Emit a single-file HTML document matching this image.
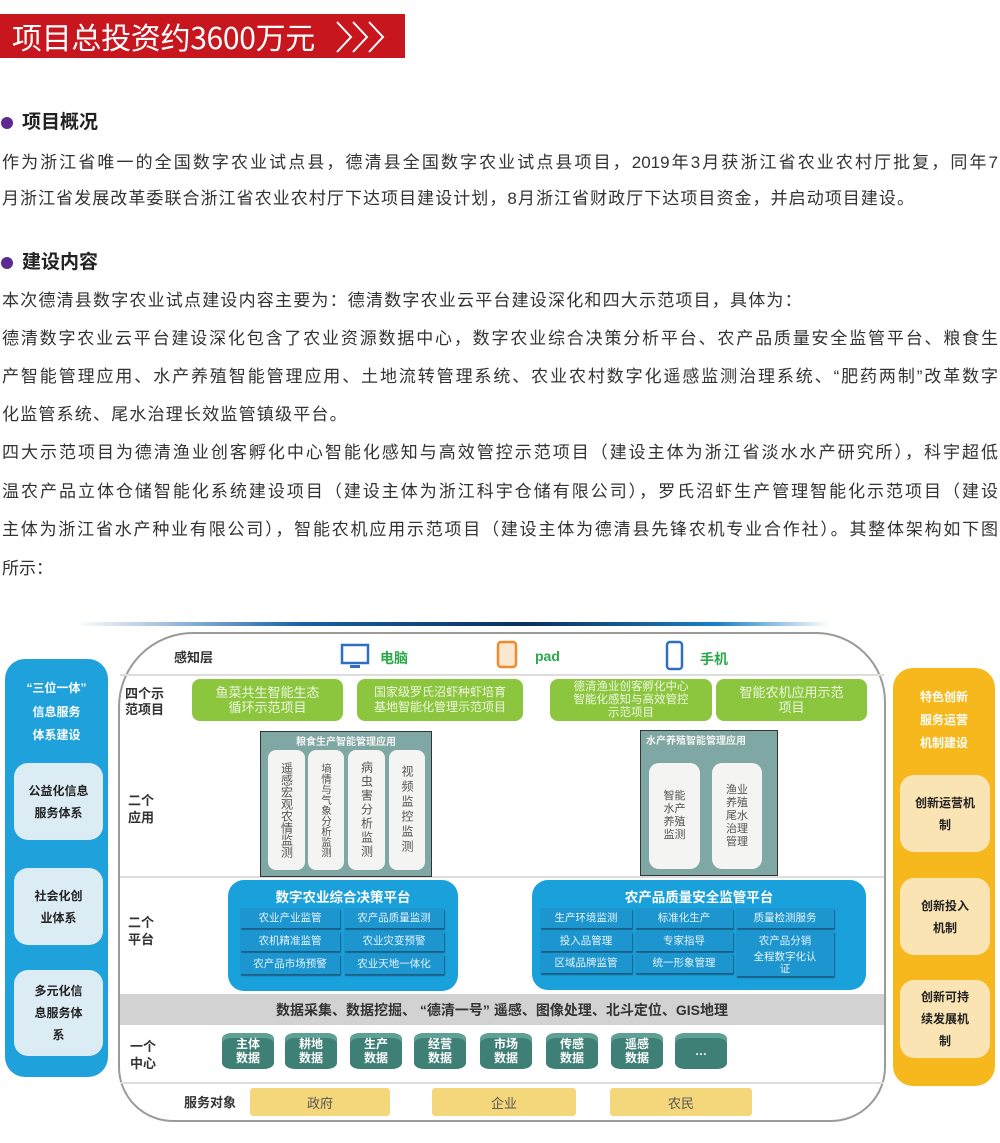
<!DOCTYPE html>
<html><head><meta charset="utf-8">
<style>
*{margin:0;padding:0;box-sizing:border-box}
body{width:1000px;height:1143px;position:relative;background:#fff;font-family:"Liberation Sans","Noto Sans CJK SC",sans-serif;color:#333;overflow:hidden}
.a{position:absolute}
.ln{position:absolute;left:2px;width:996px;font-size:17px;line-height:24px;white-space:nowrap;color:#333}
.j{text-align:justify;text-align-last:justify}
.h{position:absolute;left:22px;font-size:19px;font-weight:bold;color:#222;line-height:24px}
.dot{position:absolute;left:1px;width:12px;height:12px;border-radius:50%;background:#5d2a91}
.c{display:flex;align-items:center;justify-content:center;text-align:center}
.lbl{font-size:13px;font-weight:bold;color:#333;line-height:17px}
.g{background:#8cc63f;border-radius:8px;color:#eef7e0;font-size:13px;line-height:15px}
.col{background:#f4f4f2;border-radius:8px;color:#555;font-size:12px;line-height:14px;writing-mode:vertical-rl;text-orientation:upright;display:flex;align-items:center;justify-content:center}
.plat{background:#1aa1db;border-radius:16px}
.btn{position:absolute;background:#1d95cf;color:#e6f4fb;font-size:10.5px;height:20px;line-height:20px;text-align:center;box-shadow:1px 2px 1px #1a5f86;white-space:nowrap}
.cyl{position:absolute;width:52px;height:36px;background:#3e7f76;border-radius:10px/6px;color:#fff;font-size:12px;font-weight:bold;line-height:14px;display:flex;align-items:center;justify-content:center;text-align:center;box-shadow:inset 0 5px 0 #5fa096}
.y{background:#f5d77b;color:#555;font-size:13px;border-radius:3px}
.lb{background:#dcecf5;border-radius:14px;color:#222;font-size:12px;font-weight:bold;line-height:22px}
.yb{background:#fbe4b3;border-radius:14px;color:#222;font-size:12px;font-weight:bold;line-height:22px}
</style></head><body>

<div class="a" style="left:0;top:14px;width:405px;height:44px;background:#c8161e"></div>
<div class="a" style="left:12px;top:15px;font-size:30px;color:#fff;line-height:42px;font-family:'Noto Sans CJK SC',sans-serif;letter-spacing:-0.3px">项目总投资约3600万元</div>
<svg class="a" style="left:335px;top:20px" width="52" height="34"><g fill="none" stroke="#fff" stroke-width="2"><polyline points="2,2 16,17 2,32"/><polyline points="18,2 32,17 18,32"/><polyline points="34,2 48,17 34,32"/></g></svg>

<div class="dot" style="top:117px"></div><div class="h" style="top:111px">项目概况</div>
<div class="ln j" style="top:151px">作为浙江省唯一的全国数字农业试点县，德清县全国数字农业试点县项目，2019年3月获浙江省农业农村厅批复，同年7</div>
<div class="ln" style="top:187px;letter-spacing:1.05px">月浙江省发展改革委联合浙江省农业农村厅下达项目建设计划，8月浙江省财政厅下达项目资金，并启动项目建设。</div>

<div class="dot" style="top:257px"></div><div class="h" style="top:251px">建设内容</div>
<div class="ln" style="top:289px;letter-spacing:1.2px">本次德清县数字农业试点建设内容主要为：德清数字农业云平台建设深化和四大示范项目，具体为：</div>
<div class="ln j" style="top:327px">德清数字农业云平台建设深化包含了农业资源数据中心，数字农业综合决策分析平台、农产品质量安全监管平台、粮食生</div>
<div class="ln j" style="top:365px">产智能管理应用、水产养殖智能管理应用、土地流转管理系统、农业农村数字化遥感监测治理系统、“肥药两制”改革数字</div>
<div class="ln" style="top:403px;letter-spacing:1.2px">化监管系统、尾水治理长效监管镇级平台。</div>
<div class="ln j" style="top:441px">四大示范项目为德清渔业创客孵化中心智能化感知与高效管控示范项目（建设主体为浙江省淡水水产研究所），科宇超低</div>
<div class="ln j" style="top:480px">温农产品立体仓储智能化系统建设项目（建设主体为浙江科宇仓储有限公司），罗氏沼虾生产管理智能化示范项目（建设</div>
<div class="ln j" style="top:518px">主体为浙江省水产种业有限公司），智能农机应用示范项目（建设主体为德清县先锋农机专业合作社）。其整体架构如下图</div>
<div class="ln" style="top:557px">所示：</div>

<!-- diagram -->
<div class="a" style="left:75px;top:622px;width:755px;height:4px;background:linear-gradient(90deg,rgba(30,120,200,0),#1a5fa8 30%,#0d2f60 60%,#1a80c8 85%,rgba(30,140,210,0))"></div>
<div class="a" style="left:118px;top:632px;width:768px;height:490px;border:2px solid #9a9a9a;border-radius:75px 70px 55px 55px"></div>

<div class="a" style="left:120px;top:674px;width:764px;height:2px;background:#ddd"></div>
<div class="a" style="left:120px;top:876px;width:764px;height:2px;background:#ddd"></div>
<div class="a" style="left:120px;top:994px;width:764px;height:31px;background:#d2d2d2"></div>
<div class="a c" style="left:120px;top:994px;width:764px;height:31px;font-size:14px;font-weight:bold;color:#333">数据采集、数据挖掘、 “德清一号” 遥感、图像处理、北斗定位、GIS地理</div>
<div class="a" style="left:120px;top:1082px;width:764px;height:2px;background:#ddd"></div>

<div class="a lbl" style="left:174px;top:649px">感知层</div>
<svg class="a" style="left:340px;top:643px" width="30" height="28"><rect x="2" y="2" width="26" height="18" fill="#fff" stroke="#2f6fc0" stroke-width="2.5"/><rect x="10" y="22" width="10" height="3" fill="#2f6fc0"/></svg>
<div class="a" style="left:380px;top:648px;font-size:14px;font-weight:bold;color:#2aa84a">电脑</div>
<svg class="a" style="left:496px;top:640px" width="22" height="30"><rect x="2" y="2" width="18" height="25" rx="3" fill="#fbe6d0" stroke="#ef8b2c" stroke-width="2.5"/></svg>
<div class="a" style="left:535px;top:648px;font-size:14px;font-weight:bold;color:#2aa84a">pad</div>
<svg class="a" style="left:665px;top:640px" width="20" height="32"><rect x="2" y="2" width="15" height="27" rx="3" fill="#fff" stroke="#2f6fc0" stroke-width="2.5"/></svg>
<div class="a" style="left:700px;top:649px;font-size:14px;font-weight:bold;color:#2aa84a">手机</div>

<div class="a lbl" style="left:125px;top:686px;font-size:13px;line-height:16px">四个示<br>范项目</div>
<div class="a g c" style="left:192px;top:679px;width:151px;height:42px">鱼菜共生智能生态<br>循环示范项目</div>
<div class="a g c" style="left:357px;top:679px;width:166px;height:42px;font-size:12px">国家级罗氏沼虾种虾培育<br>基地智能化管理示范项目</div>
<div class="a g c" style="left:550px;top:679px;width:162px;height:42px;font-size:11.5px;line-height:13px">德清渔业创客孵化中心<br>智能化感知与高效管控<br>示范项目</div>
<div class="a g c" style="left:716px;top:679px;width:151px;height:42px">智能农机应用示范<br>项目</div>

<div class="a lbl" style="left:128px;top:792px">二个<br>应用</div>
<div class="a" style="left:260px;top:731px;width:172px;height:146px;background:#7fa8a4;border:1.5px solid #333"></div>
<div class="a" style="left:260px;top:733px;width:172px;text-align:center;font-size:10px;font-weight:bold;color:#f4f4f4">粮食生产智能管理应用</div>
<div class="a col" style="left:268px;top:750px;width:37px;height:120px">遥感宏观农情监测</div>
<div class="a col" style="left:308px;top:750px;width:36px;height:120px;font-size:10.5px;line-height:12px">墒情与气象分析监测</div>
<div class="a col" style="left:348px;top:750px;width:37px;height:120px;letter-spacing:2px">病虫害分析监测</div>
<div class="a col" style="left:389px;top:750px;width:36px;height:120px;letter-spacing:3px">视频监控监测</div>

<div class="a" style="left:640px;top:730px;width:138px;height:146px;background:#7fa8a4;border:1.5px solid #333"></div>
<div class="a" style="left:646px;top:732px;font-size:10px;font-weight:bold;color:#f4f4f4">水产养殖智能管理应用</div>
<div class="a c" style="left:649px;top:763px;width:51px;height:106px;background:#f4f4f2;border-radius:10px;font-size:11px;line-height:13px;color:#555">智能<br>水产<br>养殖<br>监测</div>
<div class="a c" style="left:712px;top:763px;width:50px;height:106px;background:#f4f4f2;border-radius:10px;font-size:11px;line-height:13px;color:#555">渔业<br>养殖<br>尾水<br>治理<br>管理</div>

<div class="a lbl" style="left:128px;top:914px">二个<br>平台</div>
<div class="a plat" style="left:228px;top:880px;width:230px;height:111px"></div>
<div class="a" style="left:228px;top:886px;width:230px;text-align:center;font-size:13.5px;font-weight:bold;color:#fff">数字农业综合决策平台</div>
<div class="btn" style="left:240px;top:908px;width:100px">农业产业监管</div>
<div class="btn" style="left:344px;top:908px;width:100px">农产品质量监测</div>
<div class="btn" style="left:240px;top:931px;width:100px">农机精准监管</div>
<div class="btn" style="left:344px;top:931px;width:100px">农业灾变预警</div>
<div class="btn" style="left:240px;top:954px;width:100px">农产品市场预警</div>
<div class="btn" style="left:344px;top:954px;width:100px">农业天地一体化</div>

<div class="a plat" style="left:532px;top:880px;width:334px;height:110px"></div>
<div class="a" style="left:532px;top:886px;width:334px;text-align:center;font-size:13.5px;font-weight:bold;color:#fff">农产品质量安全监管平台</div>
<div class="btn" style="left:540px;top:908px;width:92px">生产环境监测</div>
<div class="btn" style="left:635px;top:908px;width:98px">标准化生产</div>
<div class="btn" style="left:736px;top:908px;width:98px">质量检测服务</div>
<div class="btn" style="left:540px;top:931px;width:92px">投入品管理</div>
<div class="btn" style="left:635px;top:931px;width:98px">专家指导</div>
<div class="btn" style="left:736px;top:931px;width:98px">农产品分销</div>
<div class="btn" style="left:540px;top:953px;width:92px">区域品牌监管</div>
<div class="btn" style="left:635px;top:953px;width:98px">统一形象管理</div>
<div class="btn" style="left:736px;top:951px;width:98px;height:25px;line-height:12px;white-space:normal;padding:0 16px">全程数字化认证</div>

<div class="a lbl" style="left:130px;top:1038px">一个<br>中心</div>
<div class="cyl" style="left:222px;top:1033px">主体<br>数据</div>
<div class="cyl" style="left:285px;top:1033px">耕地<br>数据</div>
<div class="cyl" style="left:350px;top:1033px">生产<br>数据</div>
<div class="cyl" style="left:414px;top:1033px">经营<br>数据</div>
<div class="cyl" style="left:480px;top:1033px">市场<br>数据</div>
<div class="cyl" style="left:546px;top:1033px">传感<br>数据</div>
<div class="cyl" style="left:611px;top:1033px">遥感<br>数据</div>
<div class="cyl" style="left:675px;top:1033px">…</div>

<div class="a lbl" style="left:184px;top:1094px">服务对象</div>
<div class="a y c" style="left:250px;top:1088px;width:140px;height:28px">政府</div>
<div class="a y c" style="left:432px;top:1088px;width:144px;height:28px">企业</div>
<div class="a y c" style="left:610px;top:1088px;width:142px;height:28px">农民</div>

<div class="a" style="left:5px;top:659px;width:103px;height:418px;background:#1fa1dc;border-radius:20px"></div>
<div class="a" style="left:5px;top:677px;width:103px;text-align:center;color:#fff;font-size:12px;font-weight:bold;line-height:23.5px">“三位一体”<br>信息服务<br>体系建设</div>
<div class="a lb c" style="left:14px;top:763px;width:89px;height:77px">公益化信息<br>服务体系</div>
<div class="a lb c" style="left:14px;top:868px;width:89px;height:77px">社会化创<br>业体系</div>
<div class="a lb c" style="left:14px;top:970px;width:89px;height:86px">多元化信<br>息服务体<br>系</div>

<div class="a" style="left:893px;top:668px;width:102px;height:418px;background:#f6b81c;border-radius:20px"></div>
<div class="a" style="left:893px;top:686px;width:102px;text-align:center;color:#fff;font-size:12px;font-weight:bold;line-height:23px">特色创新<br>服务运营<br>机制建设</div>
<div class="a yb c" style="left:900px;top:775px;width:90px;height:77px">创新运营机<br>制</div>
<div class="a yb c" style="left:900px;top:878px;width:90px;height:77px">创新投入<br>机制</div>
<div class="a yb c" style="left:900px;top:980px;width:90px;height:78px">创新可持<br>续发展机<br>制</div>

</body></html>
